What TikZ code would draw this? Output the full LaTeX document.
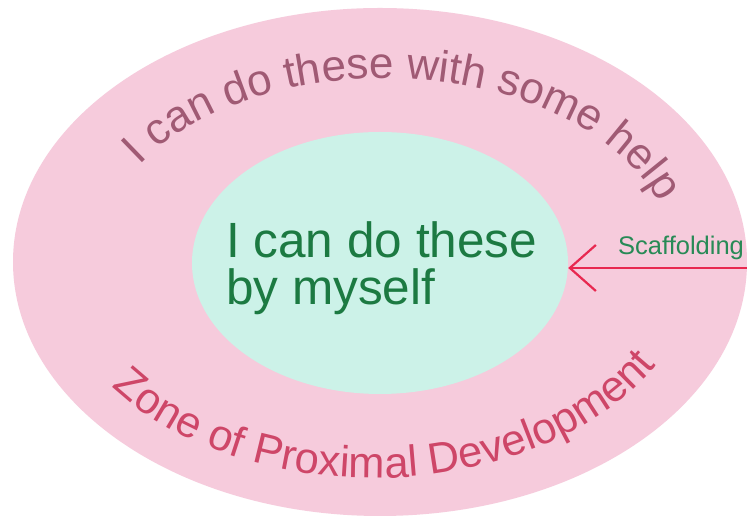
\documentclass[tikz,border=0pt]{standalone}
\usepackage{fontspec}
\setmainfont{Liberation Sans}
\usetikzlibrary{shapes.geometric,decorations.text,arrows.meta}
\definecolor{outerpink}{RGB}{246,203,220}
\definecolor{innermint}{RGB}{204,242,232}
\definecolor{innergreen}{RGB}{28,122,66}
\definecolor{topmauve}{RGB}{160,90,116}
\definecolor{zonered}{RGB}{206,70,104}
\definecolor{scafgreen}{RGB}{40,138,86}
\definecolor{arrowred}{RGB}{232,40,80}
\tikzset{
  zone/.style={ellipse, inner sep=0pt, draw=none},
  bigtext/.style={anchor=base west, inner sep=0pt, text=innergreen, font=\fontsize{49.5}{49.5}\selectfont},
  scaftext/.style={anchor=base west, inner sep=0pt, text=scafgreen, font=\fontsize{25.5}{25.5}\selectfont},
  scafarrow/.style={draw=arrowred, line width=2.2pt, -{Straight Barb[length=26pt, width=46pt, line width=2.2pt]}}
}
\begin{document}
\begin{tikzpicture}[x=1pt,y=1pt]
\useasboundingbox (0,0) rectangle (747,518);
\fill[white] (0,0) rectangle (747,518);
\node[zone, fill=outerpink, minimum width=734pt, minimum height=508pt] (outer) at (380,256) {};
\node[zone, fill=innermint, minimum width=376pt, minimum height=262pt] (inner) at (380,255) {};
\node[bigtext] (line1) at (226,260) {I can do these};
\node[bigtext] (line2) at (226,213) {by myself};
\path[decorate, decoration={text along path, text align=left,
  text={|\fontsize{44}{44}\selectfont\color{topmauve}|I can do these with some help}}]
  (385,254) ++(148:290 and 186) arc[start angle=148, end angle=0, x radius=290, y radius=186];
\path[decorate, decoration={text along path, text align=left,
  text={|\fontsize{43.5}{43.5}\selectfont\color{zonered}|Zone of Proximal Development}}]
  (374,258) ++(215.5:322 and 218) arc[start angle=215.5, end angle=355, x radius=322, y radius=218];
\node[scaftext] (scaf) at (618,263) {Scaffolding};
\coordinate (scafstart) at (747,250);
\draw[scafarrow] (scafstart) -- (inner.east |- scafstart);
\end{tikzpicture}
\end{document}
